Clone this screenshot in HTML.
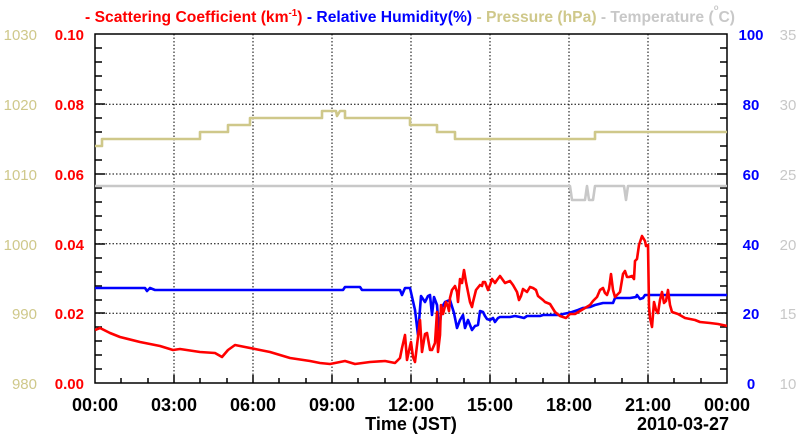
<!DOCTYPE html><html><head><style>body{margin:0;background:#fff}svg{display:block;font-family:"Liberation Sans",sans-serif}</style></head><body>
<svg width="800" height="434" viewBox="0 0 800 434">
<defs><clipPath id="c"><rect x="95" y="34" width="632" height="349"/></clipPath></defs>
<g font-size="16" font-weight="bold" text-anchor="middle">
<text x="410" y="22" textLength="650" lengthAdjust="spacingAndGlyphs"><tspan fill="#f00">- Scattering Coefficient (km</tspan><tspan fill="#f00" font-size="10" dy="-6">-1</tspan><tspan fill="#f00" dy="6">)</tspan><tspan fill="#00f"> - Relative Humidity(%)</tspan><tspan fill="#cfc88a"> - Pressure (hPa)</tspan><tspan fill="#c8c8c8"> - Temperature (</tspan><tspan fill="#c8c8c8" font-size="8" dy="-12">o</tspan><tspan fill="#c8c8c8" dy="12">C)</tspan></text>
</g>
<g stroke="#000" stroke-dasharray="1.5,2" stroke-width="1">
<path d="M174 34V383M253 34V383M332 34V383M411 34V383M490 34V383M569 34V383M648 34V383M95 104.2H727M95 174H727M95 243.8H727M95 313.2H727"/>
</g>
<g stroke="#000" stroke-width="1.5" fill="none">
<rect x="95" y="34" width="632" height="349"/>
<path d="M121 383v-5M148 383v-5M200 383v-5M227 383v-5M279 383v-5M306 383v-5M358 383v-5M385 383v-5M437 383v-5M464 383v-5M516 383v-5M543 383v-5M595 383v-5M622 383v-5M674 383v-5M701 383v-5M174 383v-8M253 383v-8M332 383v-8M411 383v-8M490 383v-8M569 383v-8M648 383v-8"/>
<path d="M95 48h7M95 62h7M95 76h7M95 90h7M95 118h7M95 132h7M95 146h7M95 160h7M95 188h7M95 202h7M95 216h7M95 230h7M95 258h7M95 272h7M95 286h7M95 300h7M95 327h7M95 341h7M95 355h7M95 369h7M95 104h10M95 174h10M95 244h10M95 313h10"/>
<path d="M727 48h-7M727 62h-7M727 76h-7M727 90h-7M727 118h-7M727 132h-7M727 146h-7M727 160h-7M727 188h-7M727 202h-7M727 216h-7M727 230h-7M727 258h-7M727 272h-7M727 286h-7M727 300h-7M727 327h-7M727 341h-7M727 355h-7M727 369h-7M727 104h-10M727 174h-10M727 244h-10M727 313h-10"/>
</g>
<g clip-path="url(#c)" fill="none" stroke-width="2.6" stroke-linejoin="round">
<polyline stroke="#cfc88a" points="95,146 102,146 102,139 200,139 200,132 228,132 228,125 250,125 250,118 322,118 322,111 336,111 337,116 340,111 345,111 345,118 410,118 410,125 437,125 437,132 455,132 455,139 595,139 595,132 727,132"/>
<polyline stroke="#c8c8c8" points="95,186 570,186 572,200 585,200 587,186 589,200 593,200 595,186 624,186 626,200 628,186 727,186"/>
<polyline stroke="#00f" points="95,288 145,288 147,291 150,288 155,290 343,290 345,287 360,287 362,290 400,290 402,295 405,288 410,288 415,310 418,335 421,296 425,302 428,296 430,295 432,315 434,297 437,305 439,330 442,307 445,302 450,300 454,313 457,328 460,320 463,315 465,328 468,320 472,330 475,326 478,325 480,311 483,312 485,316 487,319 490,320 493,318 495,322 498,318 500,317 510,317 515,316 520,317 524,318 527,316 540,316 543,315 560,315 563,314 568,313 572,312 578,310 583,308 590,307 595,305 603,303 613,303 615,298 630,298 636,297 637,295 640,299 643,298 645,295 727,295"/>
<polyline stroke="#f00" points="95,330 100,328 110,333 120,337 140,342 160,346 173,350 180,349 200,352 215,353 222,357 228,350 235,345 245,347 255,349 270,352 290,358 310,361 320,363 330,364 335,363 345,361 355,364 370,362 385,361 395,363 400,358 402,348 405,335 407,360 410,346 411,342 413,357 415,362 418,337 420,320 422,352 425,334 427,333 430,350 432,350 435,343 437,312 438,352 440,335 441,305 443,314 446,302 448,307 449,311 450,298 452,290 455,286 457,292 458,302 460,279 462,283 464,270 466,282 468,292 470,302 472,307 473,302 476,290 480,285 482,286 483,282 485,282 488,290 490,285 492,279 495,283 497,280 500,276 505,283 510,281 513,285 517,292 519,300 521,296 523,289 527,292 530,287 533,288 536,290 538,296 543,300 545,302 550,304 555,312 560,316 566,318 570,314 575,314 580,311 585,308 590,305 593,301 597,297 600,290 603,288 605,293 607,295 609,289 611,274 613,290 615,297 618,294 620,292 623,274 625,271 627,277 629,277 632,276 634,279 635,261 637,259 639,245 642,236 645,241 646,246 648,245 649,306 650,318 652,327 654,302 656,310 658,313 660,300 662,292 664,303 666,301 668,290 670,305 672,312 678,314 685,318 695,320 700,322 710,323 718,324 727,326"/>
</g>
<g font-size="15" font-weight="bold" fill="#f00" text-anchor="end">
<text x="84" y="40">0.10</text><text x="84" y="110">0.08</text><text x="84" y="180">0.06</text><text x="84" y="250">0.04</text><text x="84" y="319">0.02</text><text x="84" y="389">0.00</text>
</g>
<g font-size="15" fill="#cfc88a" text-anchor="end">
<text x="37" y="40">1030</text><text x="37" y="110">1020</text><text x="37" y="180">1010</text><text x="37" y="250">1000</text><text x="37" y="319">990</text><text x="37" y="389">980</text>
</g>
<g font-size="15" font-weight="bold" fill="#00f" text-anchor="middle">
<text x="751" y="40">100</text><text x="751" y="110">80</text><text x="751" y="180">60</text><text x="751" y="250">40</text><text x="751" y="319">20</text><text x="751" y="389">0</text>
</g>
<g font-size="15" fill="#c8c8c8" text-anchor="middle">
<text x="788" y="40">35</text><text x="788" y="110">30</text><text x="788" y="180">25</text><text x="788" y="250">20</text><text x="788" y="319">15</text><text x="788" y="389">10</text>
</g>
<g font-size="18" font-weight="bold" fill="#000" text-anchor="middle">
<text x="95" y="411">00:00</text><text x="174" y="411">03:00</text><text x="253" y="411">06:00</text><text x="332" y="411">09:00</text><text x="411" y="411">12:00</text><text x="490" y="411">15:00</text><text x="569" y="411">18:00</text><text x="648" y="411">21:00</text><text x="727" y="411">00:00</text>
<text x="411" y="430">Time (JST)</text><text x="683" y="430">2010-03-27</text>
</g>
</svg></body></html>
